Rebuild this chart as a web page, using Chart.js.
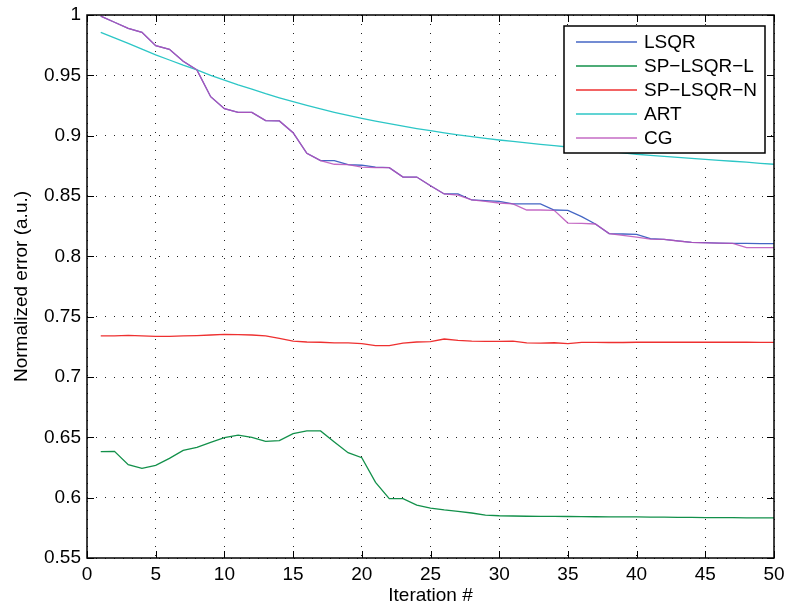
<!DOCTYPE html>
<html>
<head>
<meta charset="utf-8">
<title>Normalized error vs iteration</title>
<script src="https://cdn.jsdelivr.net/npm/chart.js@4/dist/chart.umd.min.js"></script>
<style>
  html, body { margin: 0; padding: 0; background: #fff; }
  canvas { display: block; }
</style>
</head>
<body>
<canvas id="errChart" width="787" height="612"></canvas>
<script>
// iteration numbers along the x axis
const iterations = [1,2,3,4,5,6,7,8,9,10,11,12,13,14,15,16,17,18,19,20,21,22,23,24,25,
  26,27,28,29,30,31,32,33,34,35,36,37,38,39,40,41,42,43,44,45,46,47,48,49,50];

const lsqr = [0.999,0.994,0.989,0.9856,0.9746,0.9716,0.9616,0.9544,0.9323,0.9224,
  0.9193,0.9193,0.9125,0.9122,0.9025,0.8854,0.8793,0.8793,0.876,0.8755,
  0.874,0.8735,0.8657,0.8657,0.8585,0.8517,0.8517,0.8467,0.8461,0.8456,
  0.8434,0.8434,0.8434,0.8384,0.8381,0.8329,0.8268,0.8188,0.8185,0.8182,
  0.8146,0.8141,0.8128,0.8116,0.8113,0.811,0.8108,0.8107,0.8106,0.8105];

const spLsqrL = [0.6381,0.6384,0.6273,0.6243,0.6268,0.6326,0.6392,0.6417,0.6459,0.6497,
  0.6519,0.65,0.6467,0.6473,0.653,0.6553,0.6553,0.6461,0.6373,0.6331,
  0.6127,0.5992,0.5992,0.5939,0.5914,0.5898,0.5887,0.5873,0.5856,0.585,
  0.5848,0.5846,0.5845,0.5845,0.5844,0.5843,0.5842,0.5841,0.5841,0.584,
  0.5839,0.5838,0.5837,0.5836,0.5835,0.5834,0.5834,0.5833,0.5832,0.5832];

const spLsqrN = [0.734,0.734,0.7345,0.734,0.7337,0.7337,0.734,0.7343,0.7348,0.7353,
  0.7351,0.7348,0.734,0.7321,0.7298,0.729,0.7288,0.7282,0.7282,0.7276,
  0.726,0.726,0.728,0.729,0.7293,0.7315,0.7304,0.7298,0.7296,0.7296,
  0.7298,0.7282,0.728,0.7284,0.7276,0.7287,0.7287,0.7286,0.7286,0.7288,
  0.7288,0.7288,0.7288,0.7288,0.7288,0.7288,0.7288,0.7288,0.7287,0.7287];

const art = [0.9856,0.981,0.9765,0.9717,0.9669,0.9627,0.9584,0.9545,0.95,0.9461,
  0.9421,0.9385,0.9348,0.9314,0.9282,0.9251,0.9222,0.9194,0.9168,0.9144,
  0.9121,0.91,0.9079,0.9059,0.9041,0.9023,0.9007,0.8992,0.8978,0.8964,
  0.8952,0.894,0.8928,0.8917,0.8906,0.8894,0.8882,0.8869,0.8857,0.8846,
  0.8837,0.8828,0.882,0.8812,0.8804,0.8796,0.8788,0.878,0.8771,0.8763];

const cg = [0.999,0.994,0.989,0.9856,0.9746,0.9716,0.9616,0.9544,0.9323,0.9224,
  0.9193,0.9193,0.9125,0.9122,0.9025,0.8854,0.8793,0.8763,0.876,0.874,
  0.8735,0.8735,0.8657,0.8657,0.8585,0.8517,0.8508,0.8467,0.8456,0.8442,
  0.8434,0.8384,0.8384,0.8381,0.8276,0.8273,0.8268,0.8188,0.8174,0.816,
  0.8143,0.8141,0.8127,0.8116,0.8112,0.811,0.8107,0.8072,0.8072,0.8072];

const seriesNames = ['LSQR', 'SP\u2212LSQR\u2212L', 'SP\u2212LSQR\u2212N', 'ART', 'CG'];
const seriesData = [lsqr, spLsqrL, spLsqrN, art, cg];
const seriesColors = ['#4466c4', '#12904a', '#ee3030', '#2cc6c6', 'rgba(186,80,186,0.85)'];

const xTicks = [0, 5, 10, 15, 20, 25, 30, 35, 40, 45, 50];
const yTicks = [0.55, 0.6, 0.65, 0.7, 0.75, 0.8, 0.85, 0.9, 0.95, 1];

const FONT = "'Liberation Sans', Arial, Helvetica, sans-serif";

// box around the axes with matlab style inward ticks on all four sides
const framePlugin = {
  id: 'frame',
  afterDraw(chart) {
    const ctx = chart.ctx;
    const a = chart.chartArea;
    const xs = chart.scales.x, ys = chart.scales.y;
    const tl = 7;
    ctx.save();
    ctx.strokeStyle = '#000';
    ctx.lineWidth = 1.5;
    ctx.strokeRect(a.left, a.top, a.right - a.left, a.bottom - a.top);
    ctx.lineWidth = 1;
    ctx.beginPath();
    xTicks.forEach(v => {
      const px = Math.round(xs.getPixelForValue(v)) + 0.5;
      ctx.moveTo(px, a.bottom); ctx.lineTo(px, a.bottom - tl);
      ctx.moveTo(px, a.top); ctx.lineTo(px, a.top + tl);
    });
    yTicks.forEach(v => {
      const py = Math.round(ys.getPixelForValue(v)) + 0.5;
      ctx.moveTo(a.left, py); ctx.lineTo(a.left + tl, py);
      ctx.moveTo(a.right, py); ctx.lineTo(a.right - tl, py);
    });
    ctx.stroke();

    // legend box in the upper right corner
    const bw = 201, bh = 127;
    const bx = a.right - bw - 9, by = a.top + 11;
    ctx.fillStyle = '#fff';
    ctx.fillRect(bx, by, bw, bh);
    ctx.lineWidth = 1.5;
    ctx.strokeRect(bx, by, bw, bh);
    ctx.font = '19px ' + FONT;
    ctx.textBaseline = 'middle';
    chart.data.datasets.forEach((ds, i) => {
      const ry = by + 16 + i * 24;
      ctx.strokeStyle = ds.borderColor;
      ctx.lineWidth = 1.5;
      ctx.beginPath();
      ctx.moveTo(bx + 12, ry);
      ctx.lineTo(bx + 73, ry);
      ctx.stroke();
      ctx.fillStyle = '#000';
      ctx.fillText(ds.label, bx + 80, ry + 1);
    });
    ctx.restore();
  }
};

const datasets = seriesNames.map((name, i) => ({
  label: name,
  data: iterations.map((it, k) => ({ x: it, y: seriesData[i][k] })),
  borderColor: seriesColors[i],
  backgroundColor: seriesColors[i],
  borderWidth: 1.3,
  pointRadius: 0,
  tension: 0,
  fill: false,
  order: seriesNames.length - i
}));

new Chart(document.getElementById('errChart'), {
  type: 'line',
  data: { datasets: datasets },
  options: {
    responsive: false,
    animation: false,
    layout: { padding: { left: 0, top: 15, right: 13, bottom: 0 } },
    plugins: {
      legend: { display: false },
      tooltip: { enabled: false }
    },
    scales: {
      x: {
        type: 'linear',
        min: 0,
        max: 50,
        afterBuildTicks: s => { s.ticks = xTicks.map(v => ({ value: v })); },
        afterFit: s => {
          s.height = 54;
          s.paddingLeft = 0;
          s.paddingRight = 0;
        },
        ticks: {
          color: '#000',
          font: { family: FONT, size: 19 },
          padding: 5,
          maxRotation: 0,
          callback: v => String(v)
        },
        grid: { color: '#222', lineWidth: 1, drawTicks: false },
        border: { display: false, dash: [1, 8] },
        title: {
          display: true,
          text: 'Iteration #',
          color: '#000',
          font: { family: FONT, size: 19 },
          padding: { top: 0, bottom: 5 }
        }
      },
      y: {
        type: 'linear',
        min: 0.55,
        max: 1,
        afterBuildTicks: s => { s.ticks = yTicks.map(v => ({ value: v })); },
        afterFit: s => {
          s.width = 87;
          s.paddingTop = 0;
          s.paddingBottom = 0;
        },
        ticks: {
          color: '#000',
          font: { family: FONT, size: 19 },
          padding: 6,
          callback: v => String(Math.round(v * 100) / 100)
        },
        grid: { color: '#222', lineWidth: 1, drawTicks: false },
        border: { display: false, dash: [1, 8] },
        title: {
          display: true,
          text: 'Normalized error (a.u.)',
          color: '#000',
          font: { family: FONT, size: 19 },
          padding: { top: 10, bottom: 0 }
        }
      }
    }
  },
  plugins: [framePlugin]
});
</script>
</body>
</html>
